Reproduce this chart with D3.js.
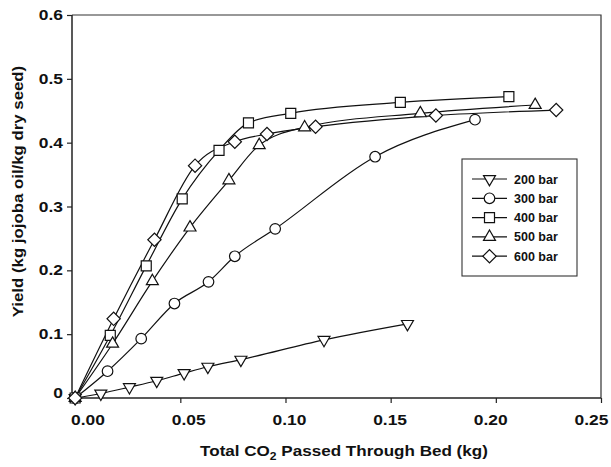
<!DOCTYPE html>
<html>
<head>
<meta charset="utf-8">
<script src="https://cdn.jsdelivr.net/npm/d3@7"></script>
<style>
  html, body { margin: 0; padding: 0; background: #fff; }
  svg { display: block; }
  text { font-family: "Liberation Sans", Arial, Helvetica, sans-serif; font-weight: bold; fill: #111; }
</style>
</head>
<body>
<svg id="chart" width="611" height="467"></svg>
<script>
// ---------------- data ----------------
const seriesNames = ["200 bar", "300 bar", "400 bar", "500 bar", "600 bar"];
const x200 = [0, 0.0122, 0.0258, 0.0388, 0.0518, 0.0631, 0.0788, 0.1183, 0.158];
const y200 = [0, 0.007, 0.017, 0.027, 0.039, 0.049, 0.060, 0.091, 0.116];
const x300 = [0, 0.0154, 0.0314, 0.0472, 0.0634, 0.0759, 0.0951, 0.1426, 0.1901];
const y300 = [0, 0.042, 0.093, 0.148, 0.182, 0.222, 0.265, 0.378, 0.436];
const x400 = [0, 0.0167, 0.0338, 0.0509, 0.0684, 0.0824, 0.1025, 0.1546, 0.2062];
const y400 = [0, 0.098, 0.207, 0.312, 0.388, 0.431, 0.446, 0.463, 0.472];
const x500 = [0, 0.0178, 0.0367, 0.0546, 0.0731, 0.0875, 0.1091, 0.1641, 0.2187];
const y500 = [0, 0.085, 0.183, 0.267, 0.341, 0.396, 0.424, 0.446, 0.459];
const x600 = [0, 0.0183, 0.0377, 0.057, 0.0759, 0.0912, 0.1143, 0.1715, 0.2287];
const y600 = [0, 0.124, 0.248, 0.364, 0.4015, 0.4135, 0.425, 0.4425, 0.4511];
const xTicks = [0, 0.05, 0.10, 0.15, 0.20, 0.25];
const yTicks = [0, 0.1, 0.2, 0.3, 0.4, 0.5, 0.6];
const xTitle = "Total CO";
const xTitleSub = "2";
const xTitleRest = " Passed Through Bed (kg)";
const yTitle = "Yield (kg jojoba oil/kg dry seed)";

const seriesX = [x200, x300, x400, x500, x600];
const seriesY = [y200, y300, y400, y500, y600];
const series = seriesNames.map((name, i) => ({
  name,
  points: seriesX[i].map((xv, j) => ({ x: xv, y: seriesY[i][j] }))
}));

// ---------------- layout ----------------
const svg = d3.select("#chart");
const plot = { left: 72, right: 601, top: 15, bottom: 398 };

const x = d3.scaleLinear().domain([-0.0015, 0.25]).range([plot.left, plot.right]);
const y = d3.scaleLinear().domain([0, 0.6]).range([plot.bottom, plot.top]);
// in the reference the x tick labels are set on a slightly narrower spacing than the ticks
const xLabel = d3.scaleLinear().domain([0, 0.25]).range([87.5, 591]);

// stretch helper: the reference's lettering is a bit wider than Liberation Sans
function stretch(sel, f) {
  sel.each(function () {
    const len = this.getComputedTextLength();
    d3.select(this).attr("textLength", len * f).attr("lengthAdjust", "spacingAndGlyphs");
  });
}

// frame (top + right)
svg.append("path")
  .attr("d", `M${plot.left},${plot.top}H${plot.right}V${plot.bottom}`)
  .attr("fill", "none").attr("stroke", "#333").attr("stroke-width", 1.2);

// axes
const xAxis = d3.axisBottom(x).tickValues(xTicks).tickFormat(d3.format(".2f"))
  .tickSizeInner(5).tickSizeOuter(0).tickPadding(12);
const gx = svg.append("g").attr("transform", `translate(0,${plot.bottom})`).call(xAxis);
gx.select(".domain").attr("stroke", "#222").attr("stroke-width", 1.5)
  .attr("d", `M${plot.left},0H${plot.right}`);
gx.selectAll(".tick line").attr("stroke", "#222").attr("stroke-width", 1.2);
gx.selectAll(".tick text").attr("font-size", 14.5).attr("font-family", null).attr("fill", "#111")
  .attr("x", d => xLabel(d) - x(d))
  .call(stretch, 1.2);

const yAxis = d3.axisLeft(y).tickValues(yTicks)
  .tickFormat(d => d === 0 ? "0" : d3.format(".1f")(d))
  .tickSizeInner(5).tickSizeOuter(0).tickPadding(4);
const gy = svg.append("g").attr("transform", `translate(${plot.left},0)`).call(yAxis);
gy.select(".domain").attr("stroke", "#222").attr("stroke-width", 1.5)
  .attr("d", `M0,${plot.top}V${plot.bottom}`);
gy.selectAll(".tick line").attr("stroke", "#222").attr("stroke-width", 1.2);
gy.selectAll(".tick text").attr("font-size", 14.5).attr("font-family", null).attr("fill", "#111")
  .attr("dy", d => d === 0 ? "-0.05em" : "0.32em")
  .call(stretch, 1.2);

// axis titles
const xt = svg.append("text")
  .attr("x", 344).attr("y", 456)
  .attr("text-anchor", "middle").attr("font-size", 15.5);
xt.append("tspan").text(xTitle);
xt.append("tspan").text(xTitleSub).attr("font-size", 11).attr("dy", 4);
xt.append("tspan").text(xTitleRest).attr("dy", -4);
stretch(xt, 1.1);

const yt = svg.append("text")
  .attr("transform", `translate(23,${(plot.top + plot.bottom) / 2 - 15}) rotate(-90)`)
  .attr("text-anchor", "middle").attr("font-size", 15).text(yTitle);
stretch(yt, 1.12);

// symbols
const symbolFor = [
  { type: d3.symbolTriangle, size: 62, rotate: 180 },
  { type: d3.symbolCircle, size: 88, rotate: 0 },
  { type: d3.symbolSquare, size: 100, rotate: 0 },
  { type: d3.symbolTriangle, size: 62, rotate: 0 },
  { type: d3.symbolSquare, size: 88, rotate: 45 }
];

const line = d3.line().x(d => x(d.x)).y(d => y(d.y)).curve(d3.curveMonotoneX);

const gLines = svg.append("g");
series.forEach(s => {
  gLines.append("path").datum(s.points)
    .attr("d", line)
    .attr("fill", "none").attr("stroke", "#111").attr("stroke-width", 1.2);
});

const gMarks = svg.append("g");
series.forEach((s, i) => {
  const sym = symbolFor[i];
  const gen = d3.symbol().type(sym.type).size(sym.size);
  gMarks.selectAll(null).data(s.points).enter().append("path")
    .attr("d", gen)
    .attr("transform", d => `translate(${x(d.x)},${y(d.y)}) rotate(${sym.rotate})`)
    .attr("fill", "#fff").attr("stroke", "#111").attr("stroke-width", 1.2);
});

// legend
const legend = svg.append("g").attr("transform", "translate(462,159)");
legend.append("rect").attr("width", 115).attr("height", 117)
  .attr("fill", "#fff").attr("stroke", "#333").attr("stroke-width", 1.1);
seriesNames.forEach((name, i) => {
  const row = legend.append("g").attr("transform", `translate(0,${20 + i * 19.3})`);
  row.append("line").attr("x1", 10).attr("x2", 45).attr("y1", 0).attr("y2", 0)
    .attr("stroke", "#111").attr("stroke-width", 1.2);
  const sym = symbolFor[i];
  row.append("path").attr("d", d3.symbol().type(sym.type).size(sym.size))
    .attr("transform", `translate(27.5,0) rotate(${sym.rotate})`)
    .attr("fill", "#fff").attr("stroke", "#111").attr("stroke-width", 1.2);
  row.append("text").attr("x", 52).attr("y", 0).attr("dy", "0.36em")
    .attr("font-size", 12.5).text(name);
});
</script>
</body>
</html>
